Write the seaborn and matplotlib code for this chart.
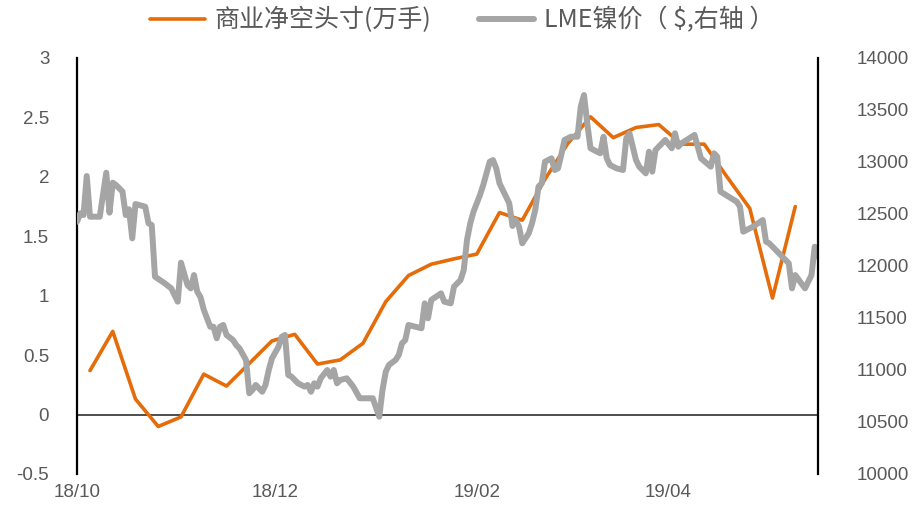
import matplotlib
matplotlib.use("Agg")
import matplotlib.pyplot as plt
import matplotlib.dates as mdates
from matplotlib.font_manager import FontProperties
import seaborn as sns
import pandas as pd

# ---------------- data ----------------
net_short_dates = [
    "2018-10-05", "2018-10-12", "2018-10-19", "2018-10-26", "2018-11-02", "2018-11-09",
    "2018-11-16", "2018-11-23", "2018-11-30", "2018-12-07", "2018-12-14", "2018-12-21",
    "2018-12-28", "2019-01-04", "2019-01-11", "2019-01-18", "2019-01-25", "2019-02-01",
    "2019-02-08", "2019-02-15", "2019-02-22", "2019-03-01", "2019-03-08", "2019-03-15",
    "2019-03-22", "2019-03-29", "2019-04-05", "2019-04-12", "2019-04-19", "2019-04-26",
    "2019-05-03", "2019-05-10",
]
net_short = [
    0.37, 0.70, 0.13, -0.10, -0.02, 0.34,
    0.24, 0.43, 0.62, 0.675, 0.425, 0.46,
    0.60, 0.95, 1.17, 1.265, 1.31, 1.35,
    1.70, 1.635, 1.98, 2.28, 2.505, 2.33,
    2.415, 2.44, 2.275, 2.275, 2.00, 1.735,
    0.98, 1.75,
]

nickel_dates = [
    "2018-10-01", "2018-10-02", "2018-10-03", "2018-10-04", "2018-10-05", "2018-10-08",
    "2018-10-10", "2018-10-11", "2018-10-12", "2018-10-13", "2018-10-15", "2018-10-16",
    "2018-10-17", "2018-10-18", "2018-10-19", "2018-10-22", "2018-10-23", "2018-10-24",
    "2018-10-25", "2018-10-28", "2018-10-30", "2018-11-01", "2018-11-02", "2018-11-04",
    "2018-11-05", "2018-11-06", "2018-11-07", "2018-11-08", "2018-11-09", "2018-11-11",
    "2018-11-12", "2018-11-13", "2018-11-14", "2018-11-15", "2018-11-16", "2018-11-18",
    "2018-11-19", "2018-11-20", "2018-11-22", "2018-11-23", "2018-11-24", "2018-11-25",
    "2018-11-27", "2018-11-28", "2018-11-29", "2018-11-30", "2018-12-02", "2018-12-03",
    "2018-12-04", "2018-12-05", "2018-12-06", "2018-12-08", "2018-12-10", "2018-12-11",
    "2018-12-12", "2018-12-13", "2018-12-14", "2018-12-15", "2018-12-17", "2018-12-18",
    "2018-12-19", "2018-12-20", "2018-12-21", "2018-12-23", "2018-12-25", "2018-12-27",
    "2018-12-30", "2018-12-31", "2019-01-02", "2019-01-03", "2019-01-04", "2019-01-05",
    "2019-01-07", "2019-01-08", "2019-01-09", "2019-01-10", "2019-01-11", "2019-01-15",
    "2019-01-16", "2019-01-17", "2019-01-18", "2019-01-21", "2019-01-22", "2019-01-24",
    "2019-01-25", "2019-01-27", "2019-01-28", "2019-01-29", "2019-01-30", "2019-01-31",
    "2019-02-02", "2019-02-03", "2019-02-05", "2019-02-06", "2019-02-07", "2019-02-08",
    "2019-02-11", "2019-02-12", "2019-02-13", "2019-02-14", "2019-02-15", "2019-02-17",
    "2019-02-18", "2019-02-19", "2019-02-20", "2019-02-21", "2019-02-22", "2019-02-24",
    "2019-02-25", "2019-02-26", "2019-02-27", "2019-02-28", "2019-03-02", "2019-03-03",
    "2019-03-04", "2019-03-05", "2019-03-06", "2019-03-07", "2019-03-08", "2019-03-10",
    "2019-03-11", "2019-03-12", "2019-03-13", "2019-03-14", "2019-03-16", "2019-03-18",
    "2019-03-19", "2019-03-20", "2019-03-22", "2019-03-23", "2019-03-25", "2019-03-26",
    "2019-03-27", "2019-03-28", "2019-03-31", "2019-04-02", "2019-04-03", "2019-04-04",
    "2019-04-05", "2019-04-09", "2019-04-10", "2019-04-11", "2019-04-14", "2019-04-15",
    "2019-04-16", "2019-04-17", "2019-04-22", "2019-04-23", "2019-04-24", "2019-04-27",
    "2019-04-30", "2019-05-01", "2019-05-02", "2019-05-05", "2019-05-08", "2019-05-09",
    "2019-05-10", "2019-05-13", "2019-05-15", "2019-05-16", "2019-05-17",
]
nickel_price = [
    12426, 12507, 12490, 12865, 12474, 12474,
    12897, 12513, 12801, 12779, 12715, 12490,
    12545, 12266, 12596, 12570, 12411, 12394,
    11897, 11834, 11785, 11657, 12032, 11817,
    11785, 11913, 11753, 11700, 11580, 11416,
    11416, 11305, 11416, 11433, 11337, 11288,
    11240, 11208, 11096, 10776, 10808, 10856,
    10791, 10856, 11000, 11112, 11224, 11320,
    11337, 10952, 10936, 10872, 10840, 10856,
    10791, 10872, 10840, 10920, 11000, 10936,
    11000, 10872, 10904, 10920, 10840, 10728,
    10728, 10728, 10551, 10808, 10984, 11048,
    11096, 11144, 11257, 11288, 11433, 11401,
    11641, 11497, 11673, 11737, 11657, 11641,
    11801, 11865, 11961, 12250, 12410, 12522,
    12683, 12779, 13003, 13019, 12939, 12795,
    12603, 12385, 12442, 12378, 12218, 12314,
    12410, 12538, 12763, 12795, 13003, 13035,
    12923, 12939, 13067, 13212, 13243, 13243,
    13243, 13532, 13644, 13372, 13132, 13099,
    13084, 13243, 13035, 12971, 12939, 12923,
    13228, 13276, 13019, 12955, 12891, 13099,
    12907, 13115, 13212, 13132, 13276, 13147,
    13180, 13260, 13147, 13035, 12955, 13084,
    13051, 12715, 12618, 12570, 12330, 12378,
    12442, 12234, 12218, 12122, 12026, 11785,
    11913, 11785, 11913, 12186, 12089,
]

left_ticks = [-0.5, 0, 0.5, 1, 1.5, 2, 2.5, 3]
left_labels = ["-0.5", "0", "0.5", "1", "1.5", "2", "2.5", "3"]
right_ticks = [10000, 10500, 11000, 11500, 12000, 12500, 13000, 13500, 14000]
x_start, x_end = "2018-10-01", "2019-05-17"
label_net = "商业净空头寸(万手)"
label_ni = "LME镍价（ $,右轴 ）"

# ---------------- style ----------------
sns.set_theme(style="white")
plt.rcParams["font.family"] = ["Liberation Sans", "Noto Sans CJK SC", "DejaVu Sans"]
TXT = "#595959"
ORANGE = "#E46C0A"
GREY = "#A5A5A5"

df_net = pd.DataFrame({"date": pd.to_datetime(net_short_dates), "v": net_short})
df_ni = pd.DataFrame({"date": pd.to_datetime(nickel_dates), "v": nickel_price})

fig = plt.figure(figsize=(9.15, 5.05), dpi=100)
ax = fig.add_axes([77 / 915, 1 - 474 / 505, (818 - 77) / 915, (474 - 58) / 505])
ax2 = ax.twinx()

sns.lineplot(data=df_net, x="date", y="v", ax=ax, color=ORANGE, linewidth=2.6,
             label=label_net, legend=False, sort=False)
sns.lineplot(data=df_ni, x="date", y="v", ax=ax2, color=GREY, linewidth=4.3,
             label=label_ni, legend=False, sort=False)

ax.axhline(0, color="#404040", linewidth=1.3, zorder=1)

ax.set_ylim(-0.5, 3)
ax2.set_ylim(10000, 14000)
ax.set_xlim(pd.Timestamp(x_start), pd.Timestamp(x_end))

ax.set_yticks(left_ticks)
ax.set_yticklabels(left_labels)
ax2.set_yticks(right_ticks)
ax2.set_yticklabels([str(t) for t in right_ticks])

ax.xaxis.set_major_locator(mdates.MonthLocator(bymonth=[10, 12, 2, 4]))
ax.xaxis.set_major_formatter(mdates.DateFormatter("%y/%m"))

for a in (ax, ax2):
    a.set_xlabel("")
    a.set_ylabel("")
    a.grid(False)
    for s in ("top", "bottom"):
        a.spines[s].set_visible(False)
    a.tick_params(axis="both", length=0, labelsize=13.5, labelcolor=TXT)

ax.spines["left"].set_color("black")
ax.spines["left"].set_linewidth(1.6)
ax.spines["right"].set_visible(False)
ax2.spines["left"].set_visible(False)
ax2.spines["right"].set_color("black")
ax2.spines["right"].set_linewidth(1.6)
ax.tick_params(axis="y", pad=20)
ax2.tick_params(axis="y", pad=28)
ax.tick_params(axis="x", pad=7)

h1, l1 = ax.get_legend_handles_labels()
h2, l2 = ax2.get_legend_handles_labels()
fig.legend(h1 + h2, l1 + l2, loc="upper center", bbox_to_anchor=(0.505, 1.03),
           ncol=2, frameon=False, prop=FontProperties(family=["Noto Sans CJK SC", "DejaVu Sans"], size=18),
           labelcolor=TXT, handlelength=2.2, handletextpad=0.4, columnspacing=1.9)

fig.savefig("out.png", dpi=100)
